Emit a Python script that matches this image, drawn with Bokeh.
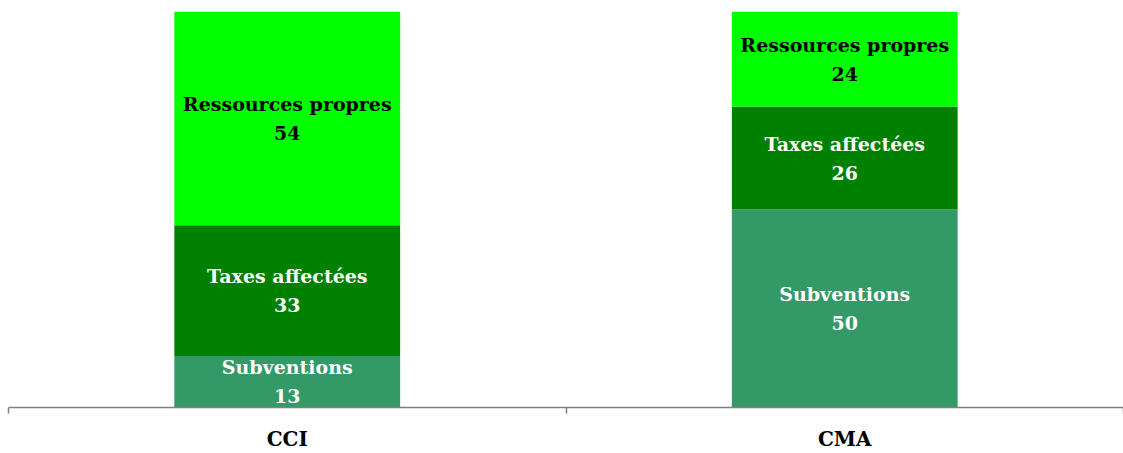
from bokeh.plotting import figure
from bokeh.models import (Range1d, LinearAxis, FixedTicker, ColumnDataSource)
from bokeh.core.properties import value
from bokeh.embed import file_html
from bokeh.resources import INLINE

# ---- data ----
categories = ["CCI", "CMA"]
subventions = [13, 50]
taxes_affectees = [33, 26]
ressources_propres = [54, 24]
series_names = ["Subventions", "Taxes affectées", "Ressources propres"]
series_colors = ["#339966", "#008000", "#00FF00"]
label_colors = ["white", "white", "black"]

FONT = "DejaVu Serif"

n = len(categories)
pos = list(range(n))
keys = ["s0", "s1", "s2"]
src = ColumnDataSource({"x": pos, "s0": subventions, "s1": taxes_affectees,
                        "s2": ressources_propres})

p = figure(x_range=Range1d(-0.5, n - 0.5), y_range=Range1d(0, 100),
           width=1123, height=453, output_backend="svg", toolbar_location=None,
           x_axis_location=None, y_axis_location=None,
           min_border_left=8, min_border_right=0, min_border_top=11,
           min_border_bottom=46, outline_line_color=None,
           background_fill_color="white", border_fill_color="white")
p.xgrid.visible = False
p.ygrid.visible = False

p.vbar_stack(keys, x="x", width=0.405, color=series_colors, source=src,
             line_color=None)

# category axis: labels at centres, boundary ticks as minor ticks
axis = LinearAxis(ticker=FixedTicker(ticks=pos,
                                     minor_ticks=[i - 0.5 for i in range(n + 1)]),
                  major_label_overrides={i: c for i, c in zip(pos, categories)},
                  axis_line_color="#808080", axis_line_width=1.5,
                  major_tick_line_color=None, major_tick_in=0, major_tick_out=0,
                  minor_tick_line_color="#808080", minor_tick_line_width=1.5,
                  minor_tick_in=0, minor_tick_out=6,
                  major_label_text_font=FONT,
                  major_label_text_font_style="bold",
                  major_label_text_font_size="20px",
                  major_label_text_color="black",
                  major_label_standoff=13)
p.add_layout(axis, "below")

# labels
xs, ys, names, vals, cols = [], [], [], [], []
series = [subventions, taxes_affectees, ressources_propres]
for i in pos:
    base = 0
    for j, s in enumerate(series):
        v = s[i]
        xs.append(i)
        ys.append(base + v / 2)
        names.append(series_names[j])
        vals.append(str(v))
        cols.append(label_colors[j])
        base += v
lsrc = ColumnDataSource(dict(x=xs, y=ys, name=names, val=vals, col=cols))

common = dict(text_align="center", text_baseline="middle",
              text_font=value(FONT), text_font_style="bold",
              text_font_size="19px", text_color="col", source=lsrc)
p.text(x="x", y="y", text="name", y_offset=-14.5, **common)
p.text(x="x", y="y", text="val", y_offset=14.5, **common)

open("out.html", "w").write(file_html(p, INLINE))
